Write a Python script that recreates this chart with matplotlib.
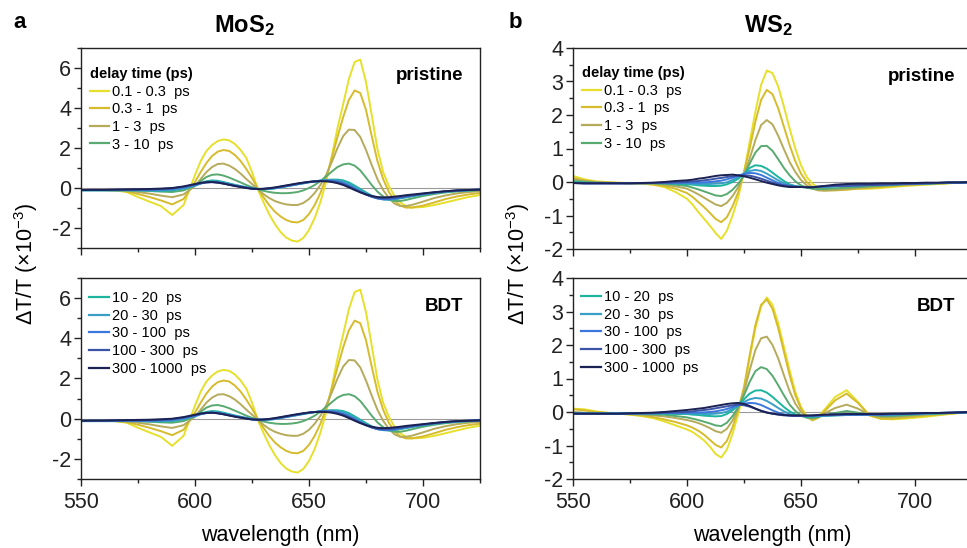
import matplotlib
matplotlib.use("Agg")
import matplotlib.pyplot as plt
from matplotlib.ticker import MultipleLocator
from matplotlib.lines import Line2D

plt.rcParams['font.family'] = ['Liberation Sans', 'DejaVu Sans']
plt.rcParams['axes.unicode_minus'] = False
plt.rcParams['mathtext.fontset'] = 'custom'
plt.rcParams['mathtext.rm'] = 'Liberation Sans'
plt.rcParams['mathtext.it'] = 'Liberation Sans:italic'
plt.rcParams['mathtext.bf'] = 'Liberation Sans:bold'

# ---------------- data ----------------
delay_labels = ['0.1 - 0.3  ps', '0.3 - 1  ps', '1 - 3  ps', '3 - 10  ps',
                '10 - 20  ps', '20 - 30  ps', '30 - 100  ps', '100 - 300  ps',
                '300 - 1000  ps']
colors = ['#e6e02a', '#d6bb2c', '#b5ab5a', '#58aa70', '#1cb59d',
          '#3a9fc6', '#3a78de', '#3b54a6', '#1b2254']

wl_mos2 = [550, 555, 560, 565, 570, 575, 580, 585, 590, 595,
           600, 602.5, 605, 607.5, 610, 612.5, 615, 617.5, 620, 622.5,
           625, 627.5, 630, 632.5, 635, 637.5, 640, 642.5, 645, 647.5,
           650, 652.5, 655, 657.5, 660, 662.5, 665, 667.5, 670, 672.5,
           675, 677.5, 680, 682.5, 685, 687.5, 690, 692.5, 695,
           700, 705, 710, 715, 720, 725]

mos2_01_03 = [-0.10, -0.10, -0.11, -0.12, -0.20, -0.45, -0.68, -0.90, -1.35, -0.85,
              0.65, 1.35, 1.85, 2.15, 2.35, 2.43, 2.38, 2.20, 1.90, 1.50,
              0.80, -0.05, -0.70, -1.30, -1.80, -2.20, -2.48, -2.63, -2.68, -2.50,
              -2.10, -1.50, -0.70, 0.30, 1.60, 3.00, 4.20, 5.45, 6.30, 6.42,
              5.30, 3.65, 1.95, 0.80, 0.10, -0.40, -0.72, -0.90, -0.98,
              -0.95, -0.85, -0.72, -0.58, -0.45, -0.35]
mos2_03_1 = [-0.10, -0.10, -0.10, -0.12, -0.17, -0.30, -0.45, -0.62, -0.82, -0.55,
             0.30, 0.80, 1.25, 1.60, 1.82, 1.90, 1.85, 1.65, 1.35, 0.95,
             0.50, 0.00, -0.45, -0.85, -1.18, -1.42, -1.60, -1.70, -1.72, -1.60,
             -1.30, -0.85, -0.25, 0.50, 1.50, 2.55, 3.55, 4.40, 4.88, 4.75,
             3.90, 2.60, 1.35, 0.45, -0.20, -0.62, -0.88, -0.98, -0.98,
             -0.88, -0.72, -0.55, -0.42, -0.32, -0.25]
mos2_1_3 = [-0.10, -0.10, -0.10, -0.10, -0.13, -0.20, -0.28, -0.38, -0.46, -0.32,
            0.10, 0.45, 0.80, 1.05, 1.20, 1.22, 1.12, 0.95, 0.72, 0.45,
            0.20, -0.05, -0.30, -0.50, -0.65, -0.75, -0.82, -0.85, -0.85, -0.75,
            -0.55, -0.25, 0.15, 0.65, 1.30, 2.00, 2.60, 2.92, 2.90, 2.55,
            1.90, 1.15, 0.45, -0.10, -0.50, -0.78, -0.90, -0.90, -0.85,
            -0.68, -0.50, -0.37, -0.27, -0.20, -0.16]
mos2_3_10 = [-0.10, -0.10, -0.10, -0.10, -0.10, -0.12, -0.15, -0.18, -0.20, -0.12,
             0.12, 0.35, 0.55, 0.66, 0.68, 0.62, 0.52, 0.40, 0.28, 0.15,
             0.04, -0.06, -0.14, -0.20, -0.24, -0.26, -0.26, -0.24, -0.20, -0.12,
             0.00, 0.15, 0.35, 0.58, 0.82, 1.05, 1.18, 1.22, 1.12, 0.88,
             0.52, 0.15, -0.18, -0.42, -0.58, -0.65, -0.65, -0.60, -0.53,
             -0.40, -0.30, -0.22, -0.17, -0.13, -0.10]
mos2_10_20 = [-0.12, -0.12, -0.12, -0.12, -0.12, -0.12, -0.13, -0.14, -0.12, -0.03,
              0.12, 0.25, 0.34, 0.38, 0.36, 0.30, 0.23, 0.16, 0.10, 0.04,
              -0.01, -0.05, -0.06, -0.05, -0.02, 0.03, 0.08, 0.13, 0.18, 0.23,
              0.28, 0.33, 0.37, 0.40, 0.42, 0.42, 0.38, 0.28, 0.12, -0.05,
              -0.22, -0.38, -0.50, -0.56, -0.58, -0.56, -0.52, -0.47, -0.42,
              -0.33, -0.25, -0.19, -0.15, -0.12, -0.10]
mos2_20_30 = [-0.12, -0.12, -0.12, -0.12, -0.11, -0.11, -0.12, -0.12, -0.10, -0.02,
              0.12, 0.22, 0.30, 0.33, 0.32, 0.27, 0.20, 0.14, 0.08, 0.03,
              -0.02, -0.05, -0.06, -0.04, -0.01, 0.04, 0.09, 0.14, 0.19, 0.24,
              0.29, 0.33, 0.37, 0.39, 0.40, 0.38, 0.32, 0.20, 0.04, -0.12,
              -0.28, -0.42, -0.52, -0.57, -0.58, -0.55, -0.50, -0.45, -0.40,
              -0.31, -0.24, -0.18, -0.14, -0.11, -0.09]
mos2_30_100 = [-0.10, -0.10, -0.10, -0.10, -0.10, -0.10, -0.10, -0.08, -0.05, 0.03,
               0.15, 0.23, 0.28, 0.30, 0.28, 0.23, 0.18, 0.12, 0.07, 0.02,
               -0.03, -0.05, -0.05, -0.03, 0.00, 0.05, 0.10, 0.15, 0.20, 0.25,
               0.30, 0.33, 0.36, 0.37, 0.36, 0.32, 0.24, 0.12, -0.03, -0.18,
               -0.32, -0.44, -0.52, -0.56, -0.56, -0.53, -0.48, -0.43, -0.38,
               -0.30, -0.23, -0.17, -0.13, -0.10, -0.08]
mos2_100_300 = [-0.10, -0.10, -0.10, -0.09, -0.08, -0.08, -0.07, -0.05, -0.02, 0.06,
                0.17, 0.24, 0.28, 0.29, 0.27, 0.22, 0.16, 0.11, 0.06, 0.01,
                -0.03, -0.05, -0.04, -0.02, 0.01, 0.06, 0.11, 0.16, 0.21, 0.26,
                0.30, 0.33, 0.35, 0.35, 0.33, 0.28, 0.20, 0.08, -0.06, -0.20,
                -0.33, -0.43, -0.50, -0.52, -0.52, -0.49, -0.45, -0.41, -0.37,
                -0.29, -0.22, -0.16, -0.12, -0.10, -0.08]
mos2_300_1000 = [-0.10, -0.09, -0.09, -0.08, -0.07, -0.06, -0.05, -0.03, 0.00, 0.08,
                 0.20, 0.26, 0.29, 0.30, 0.27, 0.22, 0.16, 0.10, 0.05, 0.00,
                 -0.04, -0.05, -0.04, -0.01, 0.03, 0.08, 0.13, 0.18, 0.23, 0.27,
                 0.31, 0.33, 0.34, 0.33, 0.30, 0.24, 0.15, 0.03, -0.10, -0.22,
                 -0.32, -0.40, -0.45, -0.47, -0.46, -0.43, -0.40, -0.36, -0.33,
                 -0.27, -0.21, -0.16, -0.12, -0.10, -0.08]

wl_ws2 = [550, 555, 560, 565, 570, 575, 580, 585, 590, 595,
          600, 602.5, 605, 607.5, 610, 612.5, 615, 617.5, 620, 622.5,
          625, 627.5, 630, 632.5, 635, 637.5, 640, 642.5, 645, 647.5,
          650, 652.5, 655, 657.5, 660,
          665, 670, 675, 680, 685, 690, 695, 700, 705, 710, 715, 720, 725]

ws2_p_01_03 = [0.18, 0.08, 0.02, 0.00, -0.02, -0.03, -0.05, -0.08, -0.15, -0.30,
               -0.50, -0.68, -0.90, -1.10, -1.30, -1.52, -1.70, -1.45, -1.00, -0.45,
               0.30, 1.20, 2.10, 2.90, 3.33, 3.25, 2.85, 2.25, 1.60, 1.00,
               0.50, 0.15, -0.05, -0.17, -0.22,
               -0.23, -0.22, -0.20, -0.20, -0.18, -0.15, -0.12, -0.10, -0.08, -0.06, -0.04, -0.02, -0.01]
ws2_p_03_1 = [0.12, 0.05, 0.00, -0.02, -0.03, -0.04, -0.05, -0.07, -0.12, -0.20,
              -0.33, -0.45, -0.60, -0.75, -0.92, -1.10, -1.20, -1.05, -0.72, -0.30,
              0.30, 1.00, 1.80, 2.45, 2.75, 2.62, 2.20, 1.65, 1.10, 0.62,
              0.25, 0.00, -0.15, -0.22, -0.25,
              -0.25, -0.23, -0.20, -0.18, -0.15, -0.12, -0.10, -0.08, -0.06, -0.05, -0.03, -0.02, -0.01]
ws2_p_1_3 = [0.08, 0.03, 0.00, -0.02, -0.03, -0.03, -0.04, -0.05, -0.08, -0.13,
             -0.20, -0.28, -0.37, -0.47, -0.57, -0.67, -0.72, -0.62, -0.42, -0.15,
             0.22, 0.70, 1.25, 1.70, 1.85, 1.72, 1.38, 0.98, 0.60, 0.30,
             0.06, -0.10, -0.20, -0.25, -0.26,
             -0.24, -0.21, -0.18, -0.15, -0.12, -0.10, -0.08, -0.07, -0.05, -0.04, -0.03, -0.02, -0.01]
ws2_p_3_10 = [0.03, 0.00, -0.02, -0.03, -0.03, -0.03, -0.04, -0.04, -0.05, -0.08,
              -0.12, -0.17, -0.22, -0.28, -0.34, -0.40, -0.42, -0.36, -0.23, -0.05,
              0.20, 0.55, 0.88, 1.07, 1.08, 0.93, 0.68, 0.42, 0.20, 0.02,
              -0.10, -0.17, -0.20, -0.21, -0.21,
              -0.19, -0.17, -0.15, -0.13, -0.11, -0.09, -0.07, -0.06, -0.05, -0.04, -0.03, -0.02, -0.01]
ws2_p_10_20 = [0.00, -0.02, -0.03, -0.03, -0.03, -0.03, -0.03, -0.03, -0.04, -0.05,
               -0.07, -0.08, -0.10, -0.11, -0.12, -0.12, -0.11, -0.07, 0.00, 0.10,
               0.25, 0.42, 0.50, 0.48, 0.40, 0.28, 0.15, 0.03, -0.07, -0.12,
               -0.15, -0.16, -0.16, -0.15, -0.15,
               -0.13, -0.12, -0.10, -0.09, -0.08, -0.07, -0.06, -0.05, -0.04, -0.03, -0.02, -0.02, -0.01]
ws2_p_20_30 = [-0.02, -0.03, -0.03, -0.03, -0.03, -0.03, -0.03, -0.03, -0.03, -0.04,
               -0.04, -0.05, -0.06, -0.06, -0.06, -0.05, -0.04, -0.01, 0.06, 0.15,
               0.25, 0.33, 0.36, 0.33, 0.25, 0.15, 0.05, -0.04, -0.10, -0.13,
               -0.14, -0.15, -0.15, -0.15, -0.14,
               -0.13, -0.11, -0.10, -0.09, -0.08, -0.07, -0.06, -0.05, -0.04, -0.03, -0.02, -0.02, -0.01]
ws2_p_30_100 = [-0.03, -0.04, -0.04, -0.04, -0.04, -0.04, -0.04, -0.03, -0.03, -0.02,
                -0.02, -0.02, -0.02, -0.01, 0.00, 0.02, 0.04, 0.08, 0.13, 0.19,
                0.24, 0.27, 0.26, 0.21, 0.13, 0.05, -0.03, -0.09, -0.12, -0.14,
                -0.15, -0.15, -0.15, -0.14, -0.13,
                -0.12, -0.11, -0.10, -0.09, -0.08, -0.07, -0.06, -0.05, -0.04, -0.03, -0.02, -0.02, -0.01]
ws2_p_100_300 = [-0.03, -0.04, -0.04, -0.04, -0.04, -0.04, -0.03, -0.03, -0.02, -0.01,
                 0.00, 0.02, 0.03, 0.05, 0.07, 0.10, 0.12, 0.15, 0.17, 0.19,
                 0.20, 0.19, 0.15, 0.10, 0.04, -0.02, -0.07, -0.10, -0.12, -0.14,
                 -0.15, -0.15, -0.15, -0.14, -0.13,
                 -0.12, -0.11, -0.10, -0.09, -0.08, -0.07, -0.06, -0.05, -0.04, -0.03, -0.02, -0.02, -0.01]
ws2_p_300_1000 = [-0.03, -0.04, -0.04, -0.04, -0.04, -0.04, -0.03, -0.02, 0.00, 0.03,
                  0.05, 0.07, 0.10, 0.12, 0.15, 0.18, 0.20, 0.21, 0.22, 0.20,
                  0.17, 0.13, 0.08, 0.03, -0.02, -0.06, -0.10, -0.13, -0.15, -0.15,
                  -0.15, -0.16, -0.16, -0.14, -0.12,
                  -0.08, -0.06, -0.05, -0.05, -0.04, -0.04, -0.03, -0.03, -0.02, -0.02, -0.01, -0.01, 0.00]

ws2_b_01_03 = [0.10, 0.08, 0.02, -0.02, -0.05, -0.08, -0.12, -0.18, -0.28, -0.40,
               -0.52, -0.60, -0.72, -0.85, -1.03, -1.25, -1.36, -1.12, -0.65, -0.05,
               0.65, 1.60, 2.50, 3.15, 3.42, 3.20, 2.65, 1.95, 1.25, 0.60,
               0.15, -0.12, -0.22, -0.15, 0.05,
               0.45, 0.65, 0.30, -0.10, -0.20, -0.22, -0.20, -0.17, -0.14, -0.10, -0.06, -0.03, 0.00]
ws2_b_03_1 = [0.08, 0.05, 0.00, -0.03, -0.05, -0.07, -0.10, -0.15, -0.22, -0.30,
              -0.40, -0.47, -0.56, -0.68, -0.83, -0.98, -1.06, -0.86, -0.45, 0.08,
              0.75, 1.70, 2.60, 3.20, 3.36, 3.08, 2.50, 1.80, 1.10, 0.50,
              0.10, -0.15, -0.25, -0.18, 0.00,
              0.35, 0.55, 0.27, -0.10, -0.20, -0.20, -0.17, -0.14, -0.10, -0.08, -0.05, -0.02, 0.00]
ws2_b_1_3 = [0.00, -0.02, -0.03, -0.04, -0.05, -0.06, -0.08, -0.10, -0.13, -0.18,
             -0.24, -0.28, -0.33, -0.40, -0.48, -0.57, -0.62, -0.50, -0.25, 0.10,
             0.60, 1.25, 1.85, 2.20, 2.25, 2.00, 1.60, 1.10, 0.62, 0.25,
             0.00, -0.15, -0.20, -0.16, -0.05,
             0.12, 0.22, 0.10, -0.08, -0.15, -0.15, -0.13, -0.10, -0.08, -0.06, -0.04, -0.02, 0.00]
ws2_b_3_10 = [-0.03, -0.03, -0.04, -0.04, -0.05, -0.05, -0.06, -0.07, -0.08, -0.12,
              -0.16, -0.20, -0.24, -0.29, -0.34, -0.40, -0.42, -0.32, -0.12, 0.15,
              0.50, 0.90, 1.22, 1.34, 1.28, 1.08, 0.80, 0.50, 0.22, 0.03,
              -0.10, -0.17, -0.18, -0.15, -0.10,
              -0.03, 0.03, -0.02, -0.08, -0.12, -0.12, -0.10, -0.08, -0.06, -0.05, -0.03, -0.02, 0.00]
ws2_b_10_20 = [-0.04, -0.04, -0.04, -0.04, -0.04, -0.04, -0.04, -0.05, -0.05, -0.06,
               -0.06, -0.08, -0.09, -0.11, -0.12, -0.13, -0.12, -0.06, 0.05, 0.20,
               0.38, 0.55, 0.64, 0.65, 0.58, 0.45, 0.30, 0.15, 0.02, -0.07,
               -0.12, -0.14, -0.14, -0.13, -0.12,
               -0.10, -0.09, -0.09, -0.09, -0.09, -0.08, -0.07, -0.06, -0.05, -0.04, -0.03, -0.02, -0.01]
ws2_b_20_30 = [-0.04, -0.04, -0.04, -0.04, -0.04, -0.04, -0.04, -0.04, -0.04, -0.04,
               -0.04, -0.05, -0.05, -0.06, -0.06, -0.05, -0.03, 0.01, 0.10, 0.20,
               0.30, 0.38, 0.42, 0.40, 0.33, 0.23, 0.12, 0.02, -0.06, -0.10,
               -0.12, -0.13, -0.13, -0.12, -0.11,
               -0.10, -0.09, -0.09, -0.09, -0.09, -0.08, -0.07, -0.06, -0.05, -0.04, -0.03, -0.02, -0.01]
ws2_b_30_100 = [-0.04, -0.05, -0.05, -0.05, -0.05, -0.05, -0.04, -0.04, -0.03, -0.03,
                -0.02, -0.02, -0.02, -0.01, 0.00, 0.02, 0.05, 0.09, 0.15, 0.20,
                0.25, 0.27, 0.26, 0.21, 0.13, 0.05, -0.02, -0.07, -0.10, -0.12,
                -0.12, -0.12, -0.12, -0.11, -0.10,
                -0.09, -0.08, -0.08, -0.08, -0.08, -0.07, -0.06, -0.05, -0.04, -0.03, -0.02, -0.02, -0.01]
ws2_b_100_300 = [-0.05, -0.05, -0.05, -0.05, -0.05, -0.04, -0.04, -0.03, -0.02, -0.01,
                 0.00, 0.02, 0.04, 0.06, 0.08, 0.11, 0.14, 0.17, 0.20, 0.22,
                 0.20, 0.16, 0.10, 0.04, -0.01, -0.05, -0.08, -0.10, -0.11, -0.12,
                 -0.12, -0.12, -0.11, -0.10, -0.09,
                 -0.08, -0.07, -0.07, -0.07, -0.07, -0.06, -0.05, -0.04, -0.03, -0.03, -0.02, -0.01, 0.00]
ws2_b_300_1000 = [-0.05, -0.05, -0.05, -0.05, -0.05, -0.04, -0.03, -0.02, 0.00, 0.03,
                  0.06, 0.08, 0.10, 0.12, 0.15, 0.18, 0.21, 0.24, 0.26, 0.27,
                  0.24, 0.18, 0.10, 0.03, -0.02, -0.05, -0.07, -0.09, -0.10, -0.10,
                  -0.10, -0.10, -0.10, -0.09, -0.08,
                  -0.07, -0.06, -0.06, -0.06, -0.06, -0.05, -0.05, -0.04, -0.03, -0.03, -0.02, -0.01, 0.00]

mos2_pristine = [mos2_01_03, mos2_03_1, mos2_1_3, mos2_3_10, mos2_10_20,
                 mos2_20_30, mos2_30_100, mos2_100_300, mos2_300_1000]
mos2_bdt = mos2_pristine  # the BDT spectra in panel a are indistinguishable
ws2_pristine = [ws2_p_01_03, ws2_p_03_1, ws2_p_1_3, ws2_p_3_10, ws2_p_10_20,
                ws2_p_20_30, ws2_p_30_100, ws2_p_100_300, ws2_p_300_1000]
ws2_bdt = [ws2_b_01_03, ws2_b_03_1, ws2_b_1_3, ws2_b_3_10, ws2_b_10_20,
           ws2_b_20_30, ws2_b_30_100, ws2_b_100_300, ws2_b_300_1000]

# ---------------- figure ----------------
W, H = 967, 548
fig = plt.figure(figsize=(W / 100, H / 100), dpi=100)


def add_ax(x0, y_top, x1, y_bot):
    return fig.add_axes([x0 / W, 1 - y_bot / H, (x1 - x0) / W, (y_bot - y_top) / H])


def draw(ax, wl, curves, ylim, major, minor, tag, leg_idx, leg_title, leg_xy,
         show_xlabels):
    ax.axhline(0, color='#9a9a9a', lw=0.8, zorder=0)
    for y, c in zip(curves, colors):
        ax.plot(wl, y, color=c, lw=1.4)
    ax.set_xlim(550, 725)
    ax.set_ylim(*ylim)
    ax.xaxis.set_major_locator(MultipleLocator(50))
    ax.xaxis.set_minor_locator(MultipleLocator(25))
    ax.yaxis.set_major_locator(MultipleLocator(major))
    ax.yaxis.set_minor_locator(MultipleLocator(minor))
    ax.tick_params(which='major', direction='out', length=5, width=1.0,
                   labelsize=15.5, colors='#222222', pad=2)
    ax.tick_params(axis='x', which='major', pad=4)
    ax.tick_params(which='minor', direction='out', length=3, width=1.0,
                   colors='#222222')
    ax.tick_params(top=False, right=False, which='both')
    for s in ax.spines.values():
        s.set_linewidth(1.0)
        s.set_color('#222222')
    if show_xlabels:
        ax.set_xlabel('wavelength (nm)', fontsize=15.5, labelpad=9)
    else:
        ax.tick_params(labelbottom=False)
    ax.text(1 - 17 / 399, 0.86, tag, transform=ax.transAxes, ha='right',
            va='center', fontsize=13.5, fontweight='bold')
    handles = [Line2D([], [], color=colors[i], lw=1.6) for i in leg_idx]
    labels = [delay_labels[i] for i in leg_idx]
    kw = {}
    if leg_title:
        kw = dict(title=leg_title,
                  title_fontproperties={'weight': 'bold', 'size': 10.5},
                  alignment='left')
    ax.legend(handles, labels, loc='upper left', bbox_to_anchor=leg_xy,
              frameon=False, fontsize=10.5, handlelength=1.35,
              handletextpad=0.2, labelspacing=0.25, borderaxespad=0,
              borderpad=0, **kw)


ax_a1 = add_ax(81, 48, 480, 248)
ax_a2 = add_ax(81, 278, 480, 479)
ax_b1 = add_ax(573, 48, 972, 249)
ax_b2 = add_ax(573, 278, 972, 479)

draw(ax_a1, wl_mos2, mos2_pristine, (-3, 7), 2, 1, 'pristine', [0, 1, 2, 3],
     'delay time (ps)', (0.022, 0.905), False)
draw(ax_a2, wl_mos2, mos2_bdt, (-3, 7), 2, 1, 'BDT', [4, 5, 6, 7, 8],
     None, (0.02, 0.935), True)
draw(ax_b1, wl_ws2, ws2_pristine, (-2, 4), 1, 0.5, 'pristine', [0, 1, 2, 3],
     'delay time (ps)', (0.022, 0.91), False)
draw(ax_b2, wl_ws2, ws2_bdt, (-2, 4), 1, 0.5, 'BDT', [4, 5, 6, 7, 8],
     None, (0.02, 0.94), True)

fig.text(20 / W, 1 - 22 / H, 'a', fontsize=16, fontweight='bold',
         ha='center', va='center')
fig.text(515 / W, 1 - 22 / H, 'b', fontsize=16, fontweight='bold',
         ha='center', va='center')
fig.text(244 / W, 1 - 26 / H, r'MoS$_\mathbf{2}$', fontsize=17,
         fontweight='bold', ha='center', va='center')
fig.text(768 / W, 1 - 26 / H, r'WS$_\mathbf{2}$', fontsize=17,
         fontweight='bold', ha='center', va='center')
for xc in (26, 518):
    fig.text(xc / W, 1 - 264 / H, r'$\Delta$T/T (×10$^{-3}$)', fontsize=15.5,
             rotation=90, ha='center', va='center')

fig.savefig('out.png', dpi=100)
